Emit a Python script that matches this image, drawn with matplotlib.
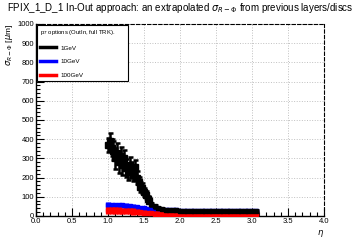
import numpy as np
import matplotlib.pyplot as plt
from matplotlib.ticker import MultipleLocator

plt.rcParams['font.family'] = ['Liberation Sans', 'DejaVu Sans']

# 1 GeV: fine bins at low eta, coarser afterwards
eta_1a = np.arange(1.0, 1.59, 0.025)
val_1a = [370, 390, 355, 340, 300, 330, 280, 310, 265, 300, 250, 230,
          265, 240, 220, 255, 200, 175, 150, 145, 125, 110, 90, 80]
err_1a = [35, 40, 45, 50, 55, 50, 55, 50, 50, 45, 45, 45,
          40, 40, 40, 35, 35, 30, 25, 25, 20, 18, 15, 12]
eta_1b = np.arange(1.6, 3.06, 0.05)
val_1b = [62, 50, 42, 36, 33, 31, 30, 29, 28, 28, 27, 27, 27, 26, 26,
          26, 26, 26, 26, 26, 26, 26, 26, 26, 26, 26, 26, 26, 26, 26]
err_1b = [8, 7, 6, 5, 5, 5, 5, 5, 5, 5, 5, 5, 5, 5, 5,
          5, 5, 5, 5, 5, 5, 5, 5, 5, 5, 5, 5, 5, 5, 5]

eta_b = np.arange(1.0, 3.06, 0.05)
val_10 = [58, 57, 57, 56, 55, 53, 51, 49, 46, 43, 40, 37, 35, 33, 32, 31,
          30, 30, 29, 29, 28, 28, 27, 27, 27, 26, 26, 26, 26, 25, 25, 25,
          25, 25, 25, 24, 24, 24, 24, 24, 24, 24]
err_10 = [13] * 8 + [10] * 8 + [6] * 26
val_100 = [30, 30, 29, 28, 27, 26, 25, 23, 21, 19, 17, 15, 14, 13, 12, 12,
           11, 11, 11, 10, 10, 10, 10, 10, 10, 10, 10, 10, 10, 10, 10, 10,
           10, 10, 10, 10, 10, 10, 10, 10, 10, 10]
err_100 = [17] * 8 + [13] * 8 + [10] * 26

fig = plt.figure(figsize=(3.6, 2.4), dpi=100)
ax = fig.add_axes([0.1, 0.1, 0.8, 0.8])

ax.errorbar(eta_b, val_10, yerr=err_10, fmt='s', color='blue', ms=3.5,
            elinewidth=3.8, capsize=0, zorder=3)
ax.errorbar(eta_b, val_100, yerr=err_100, fmt='s', color='red', ms=3.5,
            elinewidth=3.8, capsize=0, zorder=4)
ax.errorbar(eta_1a, val_1a, yerr=err_1a, fmt='s', color='black', ms=3.8,
            elinewidth=1.8, capsize=1.8, capthick=1.8, zorder=5)
ax.errorbar(eta_1b, val_1b, yerr=err_1b, fmt='s', color='black', ms=3.5,
            elinewidth=1.8, capsize=1.8, capthick=1.8, zorder=5)

ax.set_xlim(0, 4)
ax.set_ylim(0, 1000)
ax.xaxis.set_major_locator(MultipleLocator(0.5))
ax.xaxis.set_minor_locator(MultipleLocator(0.1))
ax.yaxis.set_major_locator(MultipleLocator(100))
ax.yaxis.set_minor_locator(MultipleLocator(20))
ax.tick_params(which='both', direction='in', labelsize=5.5, pad=1.5, width=0.8)
ax.tick_params(which='major', length=6)
ax.tick_params(which='minor', length=3)
ax.grid(True, which='major', linestyle=':', color='#c0c0c0', linewidth=0.7)
ax.set_axisbelow(True)
for s in ['top', 'right']:
    ax.spines[s].set_linestyle((0, (3, 2)))
    ax.spines[s].set_linewidth(0.8)
for s in ['left', 'bottom']:
    ax.spines[s].set_linewidth(1.0)

ax.set_xlabel(r'$\eta$', fontsize=6, loc='right', labelpad=2)
ax.set_ylabel(r'$\sigma_{R-\Phi}$ [$\mu$m]', fontsize=6, loc='top', labelpad=2)

fig.text(0.5, 0.965, r'FPIX_1_D_1 In-Out approach: an extrapolated $\sigma_{R-\Phi}$ from previous layers/discs',
         ha='center', va='center', fontsize=7)

h1, = ax.plot([], [], color='black', lw=2.5)
h2, = ax.plot([], [], color='blue', lw=2.5)
h3, = ax.plot([], [], color='red', lw=2.5)
leg = ax.legend([h1, h2, h3], ['1GeV', '10GeV', '100GeV'],
                title=r'p$_{T}$ options (OutIn, full TRK).',
                loc='upper left', bbox_to_anchor=(0.0035, 0.3, 0.316, 0.697),
                mode='expand', fontsize=4.5,
                title_fontsize=4.3, fancybox=False, edgecolor='black',
                framealpha=1, handlelength=2.6, labelspacing=1.35,
                borderpad=0.5, handletextpad=0.7, borderaxespad=0)
leg._legend_box.align = 'left'
leg.get_frame().set_linewidth(0.8)

fig.savefig('out.png', dpi=100)
